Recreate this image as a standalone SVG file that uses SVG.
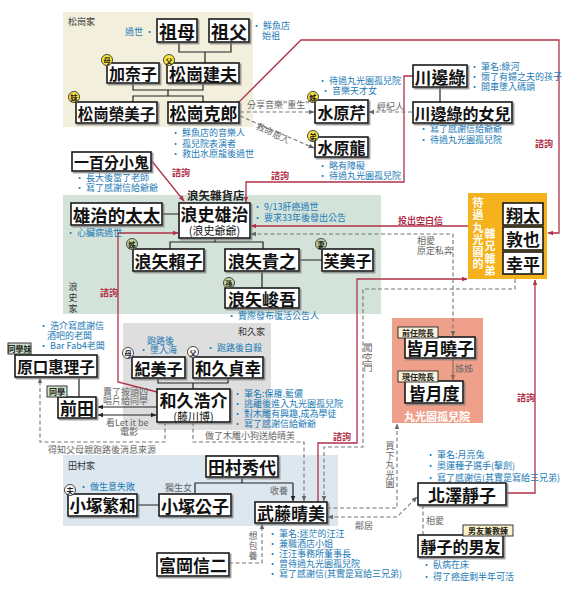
<svg xmlns="http://www.w3.org/2000/svg" width="576" height="600" viewBox="0 0 576 600">
<style>
text{font-family:"Noto Sans CJK TC","Noto Sans CJK SC","Noto Sans",sans-serif}
.box{fill:#fff;stroke:#1a1a1a;stroke-width:1.6}
.nm{font-weight:700;fill:#111;text-anchor:middle;dominant-baseline:central}
.sub{font-weight:400;fill:#111;text-anchor:middle;dominant-baseline:central;font-size:11px}
.note{font-size:9px;fill:#1b7ab6;dominant-baseline:central}
.lbl{font-size:9px;fill:#666;dominant-baseline:central}
.rlb{font-size:9px;fill:#b0304a;font-weight:700;dominant-baseline:central}
.fam{font-size:9px;fill:#333;dominant-baseline:central}
.tree{stroke:#222;stroke-width:1.2;fill:none}
.rl{stroke:#b03248;stroke-width:1.3;fill:none}
.dl{stroke:#777;stroke-width:1.1;stroke-dasharray:4 2.5;fill:none}
.bdg{stroke:#333;stroke-width:0.9}
.bt{font-size:7.5px;font-weight:700;fill:#222;text-anchor:middle;dominant-baseline:central}
.tag{stroke:#222;stroke-width:0.9}
.tt{font-size:8px;font-weight:700;fill:#222;text-anchor:middle;dominant-baseline:central}
.wv{font-size:11px;font-weight:700;fill:#fff;text-anchor:middle;dominant-baseline:central}
</style>
<defs>
<filter id="sh" x="-10%" y="-10%" width="130%" height="140%"><feDropShadow dx="1.5" dy="1.5" stdDeviation="0.6" flood-color="#777" flood-opacity="0.8"/></filter>
<marker id="ar" viewBox="0 0 10 10" refX="9" refY="5" markerWidth="6" markerHeight="6" markerUnits="userSpaceOnUse" orient="auto-start-reverse"><path d="M0,1L10,5L0,9z" fill="#b03248"/></marker>
<marker id="ag" viewBox="0 0 10 10" refX="9" refY="5" markerWidth="6" markerHeight="6" markerUnits="userSpaceOnUse" orient="auto-start-reverse"><path d="M0,1L10,5L0,9z" fill="#666"/></marker>
<marker id="ab" viewBox="0 0 10 10" refX="9" refY="5" markerWidth="6" markerHeight="6" markerUnits="userSpaceOnUse" orient="auto-start-reverse"><path d="M0,1L10,5L0,9z" fill="#222"/></marker>
<marker id="an" viewBox="0 0 10 10" refX="9" refY="5" markerWidth="6" markerHeight="6" markerUnits="userSpaceOnUse" orient="auto-start-reverse"><path d="M0,1L10,5L0,9z" fill="#8a6a5a"/></marker>
</defs>
<rect width="576" height="600" fill="#fff"/>

<g id="areas">
<rect x="63" y="12" width="190" height="115" fill="#f2f0dc"/>
<rect x="63" y="195" width="318" height="119" fill="#d3e3da"/>
<rect x="123" y="323" width="148" height="107" fill="#dedede"/>
<rect x="63" y="455" width="275" height="71" fill="#dce7ef"/>
<rect x="392" y="318" width="91" height="105" fill="#eea08a"/>
<rect x="468" y="193" width="79" height="86" fill="#f5b21c"/>
<text class="fam" x="68" y="21">松崗家</text>
<text class="fam" x="238" y="331">和久家</text>
<text class="fam" x="68" y="465">田村家</text>
<text class="fam" text-anchor="middle"><tspan x="73" y="286">浪</tspan><tspan x="73" y="297">史</tspan><tspan x="73" y="308">家</tspan></text>
<text x="187" y="194.5" font-size="11.5" font-weight="700" fill="#222" dominant-baseline="central">浪矢雜貨店</text>
<text class="wv"><tspan x="478" y="202">待</tspan><tspan x="478" y="214">過</tspan><tspan x="478" y="227">丸</tspan><tspan x="478" y="239">光</tspan><tspan x="478" y="251">園</tspan><tspan x="478" y="263">的</tspan></text>
<text class="wv"><tspan x="490" y="233">雜</tspan><tspan x="490" y="245">兄</tspan><tspan x="490" y="258">雜</tspan><tspan x="490" y="270">弟</tspan></text>
<text class="wv" x="437" y="416" font-size="11">丸光園孤兒院</text>
</g>

<g id="connectors">
<path class="tree" d="M179,42V52H231V42M205,52V63"/>
<path class="tree" d="M133,83V90H203V83M168,90V96M133,102V96H203V102"/>
<path class="tree" d="M162,214H179M215,238V242M170,249V242H263V249M299,260H322M262,271V288"/>
<path class="tree" d="M440,87V102M79,377V397"/>
<path class="tree" d="M158,378V383H228V378M193,383V389"/>
<path class="tree" d="M242,477V483M195,493V483H293M137,505H159"/>
<path class="tree" d="M293,483V501" marker-end="url(#ab)"/>
<path class="tree" d="M157,407H98" marker-end="url(#ab)"/>
<path class="tree" d="M98,415H156" marker-start="url(#ab)" marker-end="url(#ab)"/>
<path stroke="#8a6a5a" stroke-width="1.2" fill="none" d="M453,358V380" marker-end="url(#an)"/>

<path class="rl" d="M151,160L184,201" marker-end="url(#ar)"/>
<path class="rl" d="M413,76H404V182H246V202" marker-end="url(#ar)"/>
<path class="rl" d="M239,102L301,40H559V233H548" marker-end="url(#ar)"/>
<path class="rl" d="M157,392L118,382V233H178" marker-end="url(#ar)"/>
<path class="rl" d="M468,226H251" marker-end="url(#ar)"/>
<path class="rl" d="M318,502V443H357V279H467" marker-end="url(#ar)"/>
<path class="rl" d="M506,493H535V280" marker-end="url(#ar)"/>

<path class="dl" d="M240,112H314" marker-end="url(#ag)"/>
<path class="dl" d="M240,116L314,148" marker-end="url(#ag)"/>
<path class="dl" d="M412,112H369" marker-end="url(#ag)"/>
<path class="dl" d="M251,234H453V336" marker-start="url(#ag)" marker-end="url(#ag)"/>
<path class="dl" d="M515,279V289H363V447H324V501" marker-end="url(#ag)"/>
<path class="dl" d="M165,422V442H40V378" marker-end="url(#ag)"/>
<path class="dl" d="M193,422V442H304V501" marker-end="url(#ag)"/>
<path class="dl" d="M229,563H262V524" marker-end="url(#ag)"/>
<path class="dl" d="M327,508H397V424" marker-end="url(#ag)"/>
<path class="dl" d="M328,517H397L417,497" marker-start="url(#ag)" marker-end="url(#ag)"/>
<path class="dl" d="M423,505V535"/>

<text class="lbl" x="247" y="104" font-size="8.5">分享音樂"重生"</text>
<text class="lbl" x="273" y="133" text-anchor="middle" transform="rotate(25 273 133)">救命恩人</text>
<text class="lbl" x="377" y="106">經紀人</text>
<text class="lbl"><tspan x="417" y="240">相愛</tspan><tspan x="417" y="250">原定私奔</tspan></text>
<text class="lbl" text-anchor="middle"><tspan x="368" y="347">闖</tspan><tspan x="368" y="357">空</tspan><tspan x="368" y="367">門</tspan></text>
<text class="lbl" x="455" y="368" fill="#8a6a5a">姊姊</text>
<text class="lbl" font-size="8.5"><tspan x="103" y="391">賣了披頭四</tspan><tspan x="103" y="400">唱片給同學</tspan></text>
<text class="lbl" font-size="8.5"><tspan x="106" y="422">看Let it be</tspan><tspan x="120" y="431">電影</tspan></text>
<text class="lbl" x="48" y="449">得知父母親跑路後消息來源</text>
<text class="lbl" x="205" y="435">做了木雕小狗送給晴美</text>
<text class="lbl" x="165" y="487">獨生女</text>
<text class="lbl" x="270" y="490">收養</text>
<text class="lbl" text-anchor="middle"><tspan x="253" y="535">想</tspan><tspan x="253" y="545">包</tspan><tspan x="253" y="555">養</tspan></text>
<text class="lbl" text-anchor="middle"><tspan x="390" y="445">買</tspan><tspan x="390" y="455">下</tspan><tspan x="390" y="464">丸</tspan><tspan x="390" y="474">光</tspan><tspan x="390" y="483">園</tspan></text>
<text class="lbl" x="355" y="525">鄰居</text>
<text class="lbl" x="426" y="520">相愛</text>

<text class="rlb" x="172" y="172">諮詢</text>
<text class="rlb" x="271" y="175">諮詢</text>
<text class="rlb" x="535" y="143">諮詢</text>
<text class="rlb" x="398" y="220" font-weight="400">投出空白信</text>
<text class="rlb" x="100" y="292">諮詢</text>
<text class="rlb" x="333" y="436">諮詢</text>
<text class="rlb" x="517" y="397">諮詢</text>
</g>

<g id="n-zumu"><rect class="box" filter="url(#sh)" x="157" y="19" width="40" height="23"/><text class="nm" x="177" y="30.5" font-size="18">祖母</text><text class="note" x="154" y="31" text-anchor="end">過世 •</text></g>
<g id="n-zufu"><rect class="box" filter="url(#sh)" x="209" y="19" width="40" height="23"/><text class="nm" x="229" y="30.5" font-size="18">祖父</text><text class="note"><tspan x="252" y="25">• 鮮魚店</tspan><tspan x="262" y="35">始祖</tspan></text></g>
<g id="n-kanako"><rect class="box" filter="url(#sh)" x="107" y="63" width="52" height="20"/><text class="nm" x="133" y="73" font-size="16">加奈子</text><circle class="bdg" cx="107" cy="60" r="5.5" fill="#ffe63a"/><text class="bt" x="107" y="60">母</text></g>
<g id="n-takeo"><rect class="box" filter="url(#sh)" x="167" y="63" width="72" height="20"/><text class="nm" x="203" y="73" font-size="17">松崗建夫</text><circle class="bdg" cx="169" cy="60" r="5.5" fill="#ffe63a"/><text class="bt" x="169" y="60">父</text></g>
<g id="n-emiko"><rect class="box" filter="url(#sh)" x="76" y="102" width="81" height="21"/><text class="nm" x="116.5" y="112.5" font-size="15.5">松崗榮美子</text><circle class="bdg" cx="74" cy="97" r="5.5" fill="#ffe63a"/><text class="bt" x="74" y="97">妹</text></g>
<g id="n-katsuro"><rect class="box" filter="url(#sh)" x="168" y="102" width="71" height="21"/><text class="nm" x="203.5" y="112.5" font-size="17">松崗克郎</text><text class="note"><tspan x="171" y="132">• 鮮魚店的音樂人</tspan><tspan x="171" y="143">• 孤兒院表演者</tspan><tspan x="171" y="153">• 救出水原龍後過世</tspan></text></g>
<g id="n-100"><rect class="box" filter="url(#sh)" x="72" y="152" width="79" height="19"/><text class="nm" x="111.5" y="161.5" font-size="15">一百分小鬼</text><text class="note" font-size="8.8"><tspan x="75" y="177">• 長大後當了老師</tspan><tspan x="75" y="187">• 寫了感謝信給爺爺</tspan></text></g>
<g id="n-seri"><rect class="box" filter="url(#sh)" x="315" y="100" width="53" height="23"/><text class="nm" x="341.5" y="111.5" font-size="16">水原芹</text><circle class="bdg" cx="313" cy="97" r="5.5" fill="#ffe63a"/><text class="bt" x="313" y="97">姊</text><text class="note"><tspan x="318" y="80">• 待過丸光園孤兒院</tspan><tspan x="321" y="90">• 音樂天才女</tspan></text></g>
<g id="n-ryu"><rect class="box" filter="url(#sh)" x="315" y="137" width="53" height="20"/><text class="nm" x="341.5" y="147" font-size="16">水原龍</text><circle class="bdg" cx="313" cy="136" r="5.5" fill="#ffe63a"/><text class="bt" x="313" y="136">弟</text><text class="note"><tspan x="318" y="165">• 略有障礙</tspan><tspan x="318" y="175">• 待過丸光園孤兒院</tspan></text></g>
<g id="n-midori"><rect class="box" filter="url(#sh)" x="413" y="65" width="54" height="22"/><text class="nm" x="440" y="76" font-size="17">川邊綠</text><text class="note"><tspan x="470" y="66">• 筆名:綠河</tspan><tspan x="470" y="76">• 懷了有婦之夫的孩子</tspan><tspan x="470" y="86">• 開車墜入碼頭</tspan></text></g>
<g id="n-midori-d"><rect class="box" filter="url(#sh)" x="413" y="102" width="99" height="21"/><text class="nm" x="462.5" y="112.5" font-size="16">川邊綠的女兒</text><text class="note"><tspan x="419" y="128">• 寫了感謝信給爺爺</tspan><tspan x="419" y="139">• 待過丸光園孤兒院</tspan></text></g>
<g id="n-wife"><rect class="box" filter="url(#sh)" x="71" y="203" width="91" height="22"/><text class="nm" x="116.5" y="214" font-size="17.5">雄治的太太</text><text class="note" x="66" y="232">• 心臟病過世</text></g>
<g id="n-yuji"><rect class="box" filter="url(#sh)" x="179" y="203" width="71" height="35"/><text class="nm" x="214.5" y="213.5" font-size="17">浪史雄治</text><text class="sub" x="214.5" y="230">(浪史爺爺)</text><text class="note"><tspan x="253" y="206">• 9/13肝癌過世</tspan><tspan x="253" y="217">• 要求33年後發出公告</tspan></text></g>
<g id="n-yoriko"><rect class="box" filter="url(#sh)" x="133" y="249" width="71" height="22"/><text class="nm" x="168.5" y="260" font-size="17">浪矢賴子</text><circle class="bdg" cx="132" cy="244" r="5.5" fill="#c3dba0"/><text class="bt" x="132" y="244">姊</text></g>
<g id="n-takayuki"><rect class="box" filter="url(#sh)" x="225" y="249" width="74" height="22"/><text class="nm" x="262" y="260" font-size="17">浪矢貴之</text></g>
<g id="n-fumiko"><rect class="box" filter="url(#sh)" x="322" y="249" width="51" height="22"/><text class="nm" x="347.5" y="260" font-size="16">芙美子</text><circle class="bdg" cx="321" cy="244" r="5.5" fill="#c3dba0"/><text class="bt" x="321" y="244">妻</text></g>
<g id="n-shungo"><rect class="box" filter="url(#sh)" x="225" y="288" width="74" height="20"/><text class="nm" x="262" y="298" font-size="17">浪矢峻吾</text><circle class="bdg" cx="229" cy="283" r="5.5" fill="#c3dba0"/><text class="bt" x="229" y="283">孫</text><text class="note" x="227" y="315">• 實際發布復活公告人</text></g>
<g id="n-three"><rect class="box" x="503" y="203" width="40" height="22"/><text class="nm" x="523" y="214" font-size="17">翔太</text><rect class="box" x="503" y="227" width="40" height="23"/><text class="nm" x="523" y="238.5" font-size="17">敦也</text><rect class="box" x="503" y="252" width="40" height="22"/><text class="nm" x="523" y="263" font-size="17">幸平</text></g>
<g id="n-eriko"><rect class="box" filter="url(#sh)" x="15" y="355" width="82" height="22"/><text class="nm" x="56" y="366" font-size="15.5">原口惠理子</text><rect class="tag" x="8" y="343" width="23" height="11" fill="#cfe6cc"/><text class="tt" x="19.5" y="348.5" font-size="7">同學妹</text><text class="note"><tspan x="39" y="325">• 浩介寫感謝信</tspan><tspan x="47" y="335">酒吧的老闆</tspan><tspan x="39" y="345">• Bar Fab4老闆</tspan></text></g>
<g id="n-maeda"><rect class="box" filter="url(#sh)" x="58" y="397" width="38" height="21"/><text class="nm" x="77" y="407.5" font-size="17">前田</text><rect class="tag" x="47" y="386" width="20" height="11" fill="#cfe6cc"/><text class="tt" x="57" y="391.5" font-size="7">同學</text></g>
<g id="n-kimiko"><rect class="box" filter="url(#sh)" x="132" y="357" width="53" height="21"/><text class="nm" x="158.5" y="367.5" font-size="16">紀美子</text><circle class="bdg" cx="128" cy="353" r="5.5" fill="#fff"/><text class="bt" x="128" y="353">母</text><text class="note"><tspan x="147" y="340">跑路後</tspan><tspan x="139" y="349">• 墜入海</tspan></text></g>
<g id="n-sadayuki"><rect class="box" filter="url(#sh)" x="193" y="357" width="70" height="21"/><text class="nm" x="228" y="367.5" font-size="16.5">和久貞幸</text><circle class="bdg" cx="193" cy="352" r="5.5" fill="#fff"/><text class="bt" x="193" y="352">父</text><text class="note" x="206" y="347">• 跑路後自殺</text></g>
<g id="n-kosuke"><rect class="box" filter="url(#sh)" x="157" y="389" width="73" height="33"/><text class="nm" x="193.5" y="399" font-size="17">和久浩介</text><text class="sub" x="193.5" y="415.5">(藤川博)</text><text class="note"><tspan x="233" y="393">• 筆名:保羅.藍儂</tspan><tspan x="233" y="403">• 逃離後進入丸光園孤兒院</tspan><tspan x="233" y="413">• 對木雕有興趣,成為學徒</tspan><tspan x="233" y="423">• 寫了感謝信給爺爺</tspan></text></g>
<g id="n-akiko"><rect class="box" filter="url(#sh)" x="405" y="337" width="70" height="21"/><text class="nm" x="440" y="347.5" font-size="17">皆月曉子</text><rect class="tag" x="398" y="327" width="40" height="11" fill="#f8f0d8"/><text class="tt" x="418" y="332.5">前任院長</text></g>
<g id="n-wataru"><rect class="box" filter="url(#sh)" x="405" y="381" width="58" height="22"/><text class="nm" x="434" y="392" font-size="17">皆月度</text><rect class="tag" x="398" y="371" width="40" height="11" fill="#f8f0d8"/><text class="tt" x="418" y="376.5">現任院長</text></g>
<g id="n-hideyo"><rect class="box" filter="url(#sh)" x="206" y="456" width="72" height="21"/><text class="nm" x="242" y="466.5" font-size="17">田村秀代</text></g>
<g id="n-shigekazu"><rect class="box" filter="url(#sh)" x="68" y="494" width="69" height="22"/><text class="nm" x="102.5" y="505" font-size="16.5">小塚繁和</text><circle class="bdg" cx="70" cy="490" r="5.5" fill="#fff"/><text class="bt" x="70" y="490">夫</text><text class="note" x="79" y="486">• 做生意失敗</text></g>
<g id="n-kimiko2"><rect class="box" filter="url(#sh)" x="159" y="494" width="72" height="22"/><text class="nm" x="195" y="505" font-size="17">小塚公子</text></g>
<g id="n-harumi"><rect class="box" filter="url(#sh)" x="255" y="502" width="72" height="21"/><text class="nm" x="291" y="512.5" font-size="17">武藤晴美</text><text class="note"><tspan x="268" y="533">• 筆名:迷茫的汪汪</tspan><tspan x="268" y="543">• 兼職酒店小姐</tspan><tspan x="268" y="553">• 汪汪事務所董事長</tspan><tspan x="268" y="563">• 曾待過丸光園孤兒院</tspan><tspan x="268" y="573">• 寫了感謝信(其實是寫給三兄弟)</tspan></text></g>
<g id="n-tomioka"><rect class="box" filter="url(#sh)" x="157" y="553" width="72" height="23"/><text class="nm" x="193" y="564.5" font-size="17">富岡信二</text></g>
<g id="n-shizuko"><rect class="box" filter="url(#sh)" x="418" y="483" width="88" height="22"/><text class="nm" x="462" y="494" font-size="17">北澤靜子</text><text class="note"><tspan x="426" y="454">• 筆名:月亮兔</tspan><tspan x="426" y="465">• 奧運種子選手(擊劍)</tspan><tspan x="426" y="477">• 寫了感謝信(其實是寫給三兄弟)</tspan></text></g>
<g id="n-boyfriend"><rect class="box" filter="url(#sh)" x="418" y="535" width="85" height="22"/><text class="nm" x="460.5" y="546" font-size="16">靜子的男友</text><rect class="tag" x="463" y="525" width="50" height="11" fill="#fbf2c8"/><text class="tt" x="488" y="530.5">男友兼教練</text><text class="note"><tspan x="422" y="564">• 臥病在床</tspan><tspan x="422" y="576">• 得了癌症剩半年可活</tspan></text></g>
</svg>
